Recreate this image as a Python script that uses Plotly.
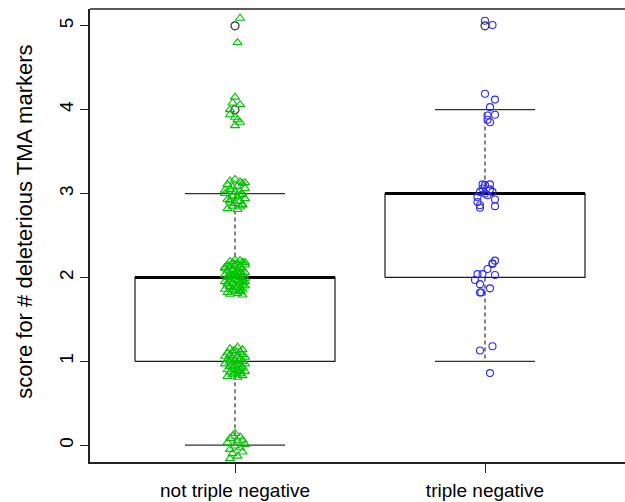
import plotly.graph_objects as go

# ---- data ----
categories = ["not triple negative", "triple negative"]
positions = [1, 2]
q1 = [1, 2]
median = [2, 3]
q3 = [2, 3]
whisker_lo = [0, 1]
whisker_hi = [3, 4]
outliers = [[4, 5], [5]]

# group 1 (not triple negative) jittered scores and horizontal jitter offsets
g1_scores = [
    0.14, 0.11, 0.10, 0.08, 0.06, 0.05, 0.03, 0.01, -0.01, -0.03,
    -0.05, -0.08, -0.10, -0.13, -0.16,
    1.17, 1.15, 1.14, 1.12, 1.11, 1.10, 1.09, 1.08, 1.07, 1.06,
    1.05, 1.04, 1.03, 1.02, 1.01, 1.00, 0.99, 0.98, 0.97, 0.96,
    0.95, 0.94, 0.93, 0.92, 0.91, 0.90, 0.89, 0.88, 0.87, 0.86,
    0.85, 0.84, 0.83, 0.82, 0.81, 1.13, 1.06, 0.97, 0.88, 1.02,
    2.21, 2.20, 2.19, 2.18, 2.17, 2.16, 2.15, 2.15, 2.14, 2.13,
    2.12, 2.11, 2.10, 2.09, 2.09, 2.08, 2.07, 2.06, 2.05, 2.04,
    2.04, 2.03, 2.02, 2.01, 2.00, 2.00, 1.99, 1.98, 1.97, 1.96,
    1.96, 1.95, 1.94, 1.93, 1.92, 1.91, 1.91, 1.90, 1.89, 1.88,
    1.87, 1.86, 1.86, 1.85, 1.84, 1.83, 1.82, 1.81, 1.80, 1.79,
    2.18, 2.12, 2.06, 2.01, 1.97, 1.93, 1.88, 1.84, 2.03, 1.95,
    3.17, 3.15, 3.14, 3.12, 3.11, 3.09, 3.08, 3.06, 3.05, 3.03,
    3.02, 3.00, 2.99, 2.97, 2.96, 2.94, 2.93, 2.91, 2.90, 2.88,
    2.87, 2.85, 2.84, 2.82, 2.81, 3.13, 3.04, 2.98, 2.92, 2.86,
    4.15, 4.08, 4.06, 4.00, 3.94, 3.91, 3.88, 3.85, 3.81,
    5.09, 4.80,
]
g1_jitter = [
    0.00, -0.01, 0.02, -0.02, 0.03, 0.01, -0.03, 0.04, 0.00, 0.02,
    -0.02, 0.03, -0.01, 0.01, -0.02,
    0.01, -0.02, 0.03, -0.01, 0.02, -0.03, 0.00, 0.03, -0.02, 0.01,
    0.04, -0.01, 0.02, -0.03, 0.00, 0.03, -0.02, 0.01, -0.04, 0.02,
    0.00, -0.02, 0.03, -0.01, 0.02, -0.03, 0.01, 0.04, -0.02, 0.00,
    0.02, -0.01, 0.03, -0.03, 0.01, 0.00, -0.04, 0.04, 0.02, -0.02,
    0.00, 0.02, -0.02, 0.03, -0.01, 0.01, -0.03, 0.04, 0.00, -0.02,
    0.02, -0.04, 0.03, 0.01, -0.01, -0.03, 0.02, 0.04, -0.02, 0.00,
    0.03, -0.04, 0.01, -0.01, 0.02, -0.03, 0.04, 0.00, -0.02, 0.03,
    0.01, -0.04, 0.02, -0.01, 0.03, 0.00, -0.03, 0.04, -0.02, 0.01,
    0.02, -0.01, -0.04, 0.03, 0.00, 0.02, -0.03, 0.01, -0.02, 0.03,
    0.04, -0.04, 0.01, -0.02, 0.03, -0.03, 0.00, 0.02, -0.01, 0.04,
    0.00, -0.02, 0.02, 0.03, -0.03, 0.01, -0.01, 0.04, -0.02, 0.02,
    0.00, -0.04, 0.03, -0.01, 0.01, 0.04, -0.03, 0.02, -0.02, 0.00,
    0.03, -0.01, 0.02, -0.03, 0.01, 0.04, -0.04, 0.02, -0.02, 0.03,
    0.00, -0.01, 0.02, -0.02, -0.02, 0.00, 0.01, 0.02, 0.00,
    0.02, 0.01,
]

# group 2 (triple negative)
g2_scores = [
    5.06, 5.01,
    4.19, 4.12, 4.03, 3.94, 3.93, 3.88, 3.85,
    3.11, 3.10, 3.11, 3.06, 3.05, 3.02, 2.98, 3.02, 2.96, 2.90,
    2.86, 2.83, 2.93, 2.85, 3.00,
    2.20, 2.17, 2.16, 2.10, 2.04, 2.04, 2.03, 1.97, 1.92, 1.87,
    1.82, 1.82,
    1.18, 1.13, 0.86,
]
g2_jitter = [
    0.00, 0.03,
    0.00, 0.04, 0.02, 0.04, 0.01, 0.01, 0.02,
    -0.01, 0.00, 0.02, -0.01, 0.02, -0.02, 0.01, 0.03, -0.03, -0.03,
    -0.02, -0.02, 0.04, 0.04, 0.00,
    0.04, 0.03, 0.03, 0.01, -0.03, -0.01, 0.04, -0.04, -0.02, 0.02,
    -0.02, -0.015,
    0.03, -0.02, 0.02,
]

box_half = 0.4
cap_half = 0.2

fig = go.Figure()

for i, p in enumerate(positions):
    # box outline
    fig.add_trace(go.Scatter(
        x=[p - box_half, p + box_half, p + box_half, p - box_half, p - box_half],
        y=[q1[i], q1[i], q3[i], q3[i], q1[i]],
        mode="lines", line=dict(color="#1a1a1a", width=1.2),
        hoverinfo="skip", showlegend=False))
    # whiskers (dashed)
    fig.add_trace(go.Scatter(
        x=[p, p, None, p, p],
        y=[q3[i], whisker_hi[i], None, q1[i], whisker_lo[i]],
        mode="lines", line=dict(color="#333333", width=1.2, dash="4px,3px"),
        hoverinfo="skip", showlegend=False))
    # caps
    fig.add_trace(go.Scatter(
        x=[p - cap_half, p + cap_half, None, p - cap_half, p + cap_half],
        y=[whisker_hi[i], whisker_hi[i], None, whisker_lo[i], whisker_lo[i]],
        mode="lines", line=dict(color="#333333", width=1.2),
        hoverinfo="skip", showlegend=False))
    # median
    fig.add_trace(go.Scatter(
        x=[p - box_half, p + box_half], y=[median[i], median[i]],
        mode="lines", line=dict(color="black", width=3),
        hoverinfo="skip", showlegend=False))
    # outliers
    fig.add_trace(go.Scatter(
        x=[p] * len(outliers[i]), y=outliers[i], mode="markers",
        marker=dict(symbol="circle-open", size=8, color="#333333",
                    line=dict(width=1.2)),
        hoverinfo="skip", showlegend=False))

fig.add_trace(go.Scatter(
    x=[positions[0] + d for d in g1_jitter], y=g1_scores, mode="markers",
    marker=dict(symbol="triangle-up-open", size=8, color="#00c400",
                line=dict(width=1.1)),
    showlegend=False))
fig.add_trace(go.Scatter(
    x=[positions[1] + d for d in g2_jitter], y=g2_scores, mode="markers",
    marker=dict(symbol="circle-open", size=7, color="#2a2aff",
                line=dict(width=1.1)),
    showlegend=False))

font = "Liberation Sans, Arial, sans-serif"
fig.update_layout(
    width=625, height=502,
    margin=dict(l=90, r=0, t=9, b=40, autoexpand=False),
    paper_bgcolor="white", plot_bgcolor="white",
    font=dict(family=font, color="black"),
    xaxis=dict(range=[0.42, 2.56], tickvals=positions, ticktext=categories,
               showgrid=False, zeroline=False, showline=True, mirror=False,
               linecolor="#222222", linewidth=1.5, ticks="outside", ticklen=9,
               tickcolor="#222222", tickfont=dict(size=19, family=font),
               ticklabelstandoff=1, automargin=False),
    yaxis=dict(range=[-0.2, 5.2], tickvals=[0, 1, 2, 3, 4, 5],
               showgrid=False, zeroline=False, showline=True, mirror=False,
               linecolor="#222222", linewidth=1.5, ticks="outside", ticklen=8,
               tickcolor="#222222", tickangle=-90,
               tickfont=dict(size=19, family=font), ticklabelstandoff=0,
               automargin=False),
    shapes=[dict(type="line", xref="paper", yref="paper", x0=0, x1=1,
                 y0=1, y1=1, line=dict(color="#222222", width=1.5))],
    annotations=[dict(text="score for # deleterious TMA markers",
                      xref="paper", yref="paper", x=-0.122, y=0.53,
                      xanchor="center", yanchor="middle", textangle=-90,
                      showarrow=False, font=dict(size=22, family=font))],
)

fig.write_html("out.html", config={"displayModeBar": False},
               post_script="document.body.style.margin='0';document.body.style.overflow='hidden';")
